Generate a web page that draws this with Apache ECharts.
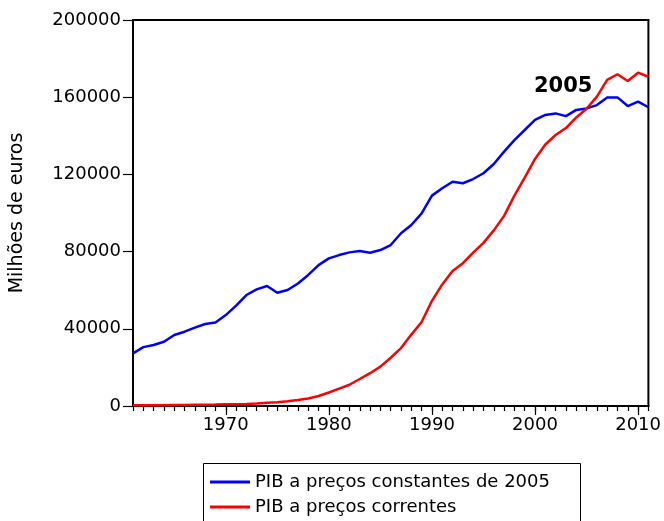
<!DOCTYPE html>
<html>
<head>
<meta charset="utf-8">
<script src="https://cdn.jsdelivr.net/npm/echarts@6/dist/echarts.min.js"></script>
<style>
html,body{margin:0;padding:0;background:#fff;}
#chart{width:664px;height:521px;}
</style>
</head>
<body>
<div id="chart"></div>
<script>
const years = [1961,1962,1963,1964,1965,1966,1967,1968,1969,1970,
  1971,1972,1973,1974,1975,1976,1977,1978,1979,1980,
  1981,1982,1983,1984,1985,1986,1987,1988,1989,1990,
  1991,1992,1993,1994,1995,1996,1997,1998,1999,2000,
  2001,2002,2003,2004,2005,2006,2007,2008,2009,2010,2011];

const pibConstantes = [27300,30500,31600,33300,36800,38500,40600,42500,43300,47100,
  52000,57500,60400,62200,58700,60100,63500,67900,73000,76500,
  78200,79600,80300,79400,80800,83400,89500,93800,99800,109000,
  112800,116200,115400,117600,120600,125400,131800,137800,143000,148200,
  150800,151600,150200,153400,154200,155900,159900,159900,155400,157700,154800];

const pibCorrentes = [350,380,410,450,500,550,610,680,750,850,
  950,1100,1350,1650,1950,2450,3100,3900,5200,7000,
  9000,11000,14000,17000,20400,25000,30000,37000,43500,54500,
  63000,70000,74000,79500,84500,91000,98500,109000,118300,128000,
  135500,140400,144000,149500,154000,160300,169000,171900,168400,172700,170600];

const yTicks = [0,40000,80000,120000,160000,200000];
const seriesNames = ['PIB a preços constantes de 2005','PIB a preços correntes'];
const annotation = '2005';
const yTitle = 'Milhões de euros';

const FONT = 'DejaVu Sans';
const legendBase = {orient:'vertical', left:210, itemWidth:40, itemHeight:3, icon:'rect',
  padding:0, textStyle:{fontSize:18, fontFamily:FONT, color:'#000', lineHeight:22}};
const chart = echarts.init(document.getElementById('chart'), null, {renderer:'canvas'});
chart.setOption({
  animation:false,
  backgroundColor:'#fff',
  grid:{left:133, top:20, width:517, height:386, show:true, borderColor:'#000', borderWidth:2, backgroundColor:'transparent'},
  xAxis:[
    {type:'category', data:years.map(String), boundaryGap:false,
     axisLine:{show:true, lineStyle:{color:'#000', width:2}},
     axisTick:{show:true, inside:false, length:5, interval:0, lineStyle:{color:'#000', width:1.2}},
     axisLabel:{show:false}, splitLine:{show:false}},
    {type:'category', data:years.map(String), boundaryGap:false, position:'bottom',
     axisLine:{show:false},
     axisTick:{show:true, inside:false, length:9, interval:(i,v)=>(+v)%10===0, lineStyle:{color:'#000', width:1.2}},
     axisLabel:{show:true, interval:(i,v)=>(+v)%10===0, fontSize:18, fontFamily:FONT, color:'#000', margin:10},
     splitLine:{show:false}}
  ],
  yAxis:{type:'value', min:yTicks[0], max:yTicks[yTicks.length-1], interval:yTicks[1]-yTicks[0],
    axisLine:{show:true, lineStyle:{color:'#000', width:2}},
    axisTick:{show:true, inside:false, length:10, lineStyle:{color:'#000', width:1.2}},
    axisLabel:{fontSize:18, fontFamily:FONT, color:'#000', margin:12, formatter:(v)=>String(v)},
    splitLine:{show:false},
    name:yTitle, nameLocation:'middle', nameGap:106, nameRotate:90,
    nameTextStyle:{fontSize:19, fontFamily:FONT, color:'#000'}},
  legend:[
    Object.assign({}, legendBase, {top:471, data:[seriesNames[0]]}),
    Object.assign({}, legendBase, {top:496, data:[seriesNames[1]]})
  ],
  graphic:[
    {type:'rect', x:203.5, y:463.5, shape:{x:0, y:0, width:377, height:80}, style:{fill:'none', stroke:'#000', lineWidth:1}, z:-1},
    {type:'text', left:534, top:76, style:{text:annotation, font:'bold 21px "DejaVu Sans"', fill:'#000'}}
  ],
  series:[
    {name:seriesNames[0], type:'line', xAxisIndex:0, data:pibConstantes, symbol:'none', lineStyle:{color:'#0000ff', width:2.5}, itemStyle:{color:'#0000ff'}},
    {name:seriesNames[1], type:'line', xAxisIndex:0, data:pibCorrentes, symbol:'none', lineStyle:{color:'#ff0000', width:2.5}, itemStyle:{color:'#ff0000'}}
  ]
});
</script>
</body>
</html>
